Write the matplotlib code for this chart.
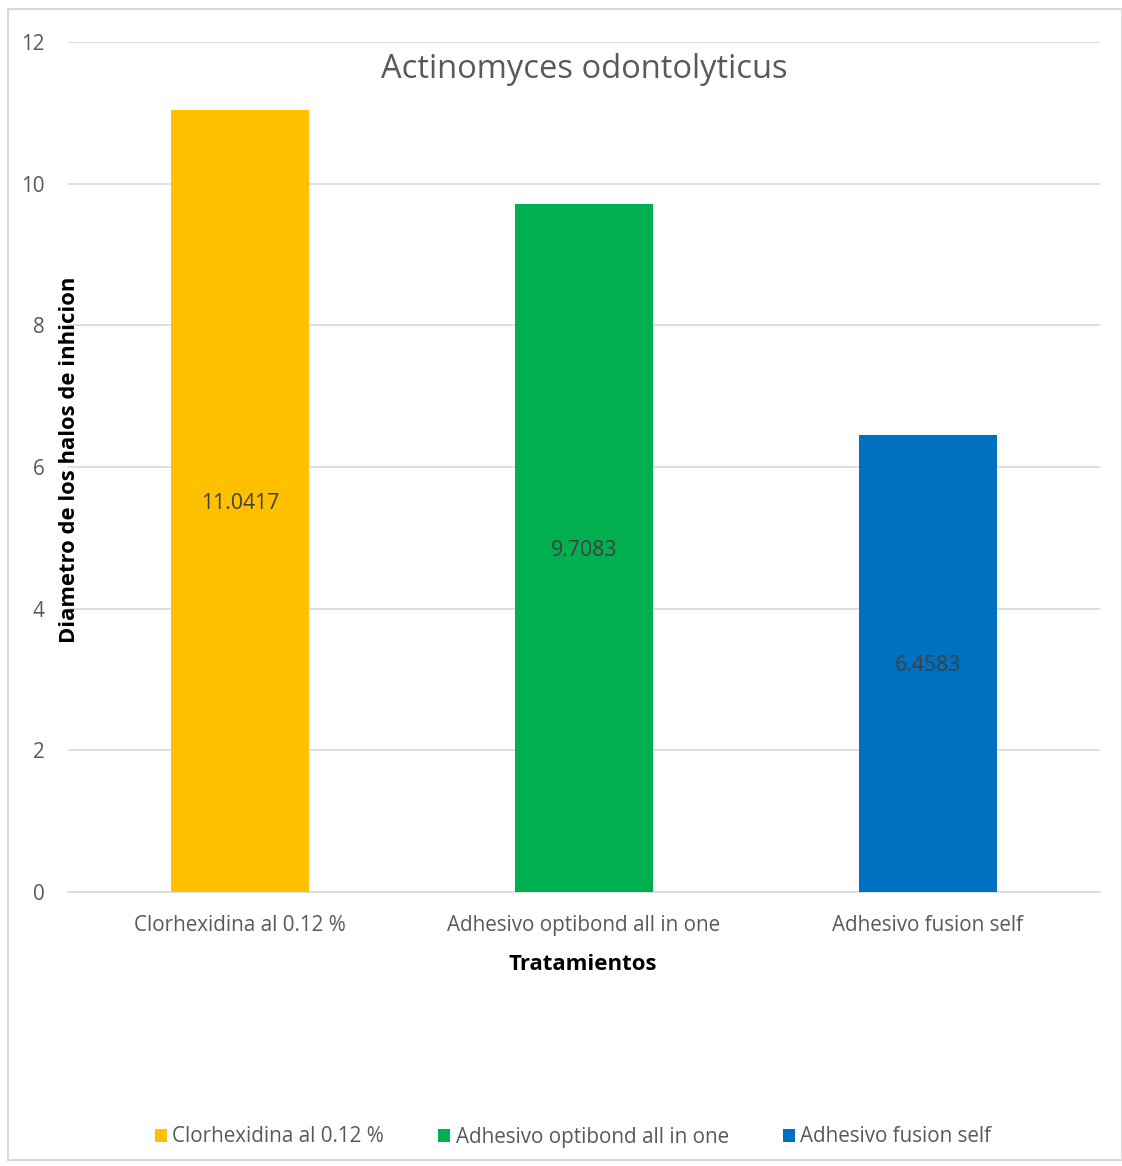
import matplotlib
matplotlib.use("Agg")
import matplotlib.pyplot as plt
from matplotlib.patches import Rectangle, Patch

plt.rcParams['font.family'] = ['Open Sans', 'DejaVu Sans']

categories = ["Clorhexidina al 0.12 %", "Adhesivo optibond all in one", "Adhesivo fusion self"]
values = [11.0417, 9.7083, 6.4583]
colors = ["#FFC000", "#00B050", "#0070C0"]
yticks = [0, 2, 4, 6, 8, 10, 12]

TEXT = "#595959"
GRID = "#D9D9D9"

fig = plt.figure(figsize=(11.22, 11.66), dpi=100)
fig.patches.append(Rectangle((8 / 1122, 6 / 1166), 1 - 8 / 1122, 1 - 15 / 1166,
                             transform=fig.transFigure, fill=False,
                             edgecolor=GRID, linewidth=1.5))

ax = fig.add_axes([68 / 1122, 1 - 892 / 1166, 1032 / 1122, 850 / 1166])
x = list(range(len(categories)))
bars = ax.bar(x, values, width=0.40, color=colors, zorder=3)

for xi, v in zip(x, values):
    ax.text(xi, v / 2, f"{v:g}", ha="center", va="center_baseline",
            fontsize=15.3, color="#404040", zorder=4)

ax.set_xlim(-0.5, 2.5)
ax.set_ylim(0, 12)
ax.set_yticks(yticks)
ax.set_yticklabels([str(t) for t in yticks])
ax.set_xticks(x)
ax.set_xticklabels(categories)
ax.tick_params(axis="both", length=0, labelsize=14.9, colors=TEXT)
ax.tick_params(axis="y", pad=17)
ax.tick_params(axis="x", pad=16.5)
ax.grid(axis="y", color=GRID, linewidth=1.2, zorder=0)
for s in ["top", "right", "left"]:
    ax.spines[s].set_visible(False)
ax.spines["bottom"].set_color(GRID)
ax.spines["bottom"].set_linewidth(1.2)

ax.text(0.5, 1 - 28 / 850, "Actinomyces odontolyticus", transform=ax.transAxes,
        ha="center", va="center", fontsize=23.5, color=TEXT)

fig.text(583 / 1122, 1 - 965 / 1166, "Tratamientos", ha="center", va="center",
         fontsize=16, fontweight="bold", color="black")
fig.text(70 / 1122, 1 - 460 / 1166, "Diametro de los halos de inhicion",
         ha="center", va="center", rotation=90, fontsize=15.8,
         fontweight="bold", color="black")

handles = [Patch(facecolor=c, edgecolor="none") for c in colors]
fig.legend(handles, categories, loc="center", bbox_to_anchor=(573 / 1122, 1 - 1137 / 1166),
           ncol=3, frameon=False, fontsize=14.9, handlelength=0.6, handleheight=0.6,
           handletextpad=0.25, columnspacing=2.6, labelcolor=TEXT)

fig.savefig("out.png", dpi=100)
